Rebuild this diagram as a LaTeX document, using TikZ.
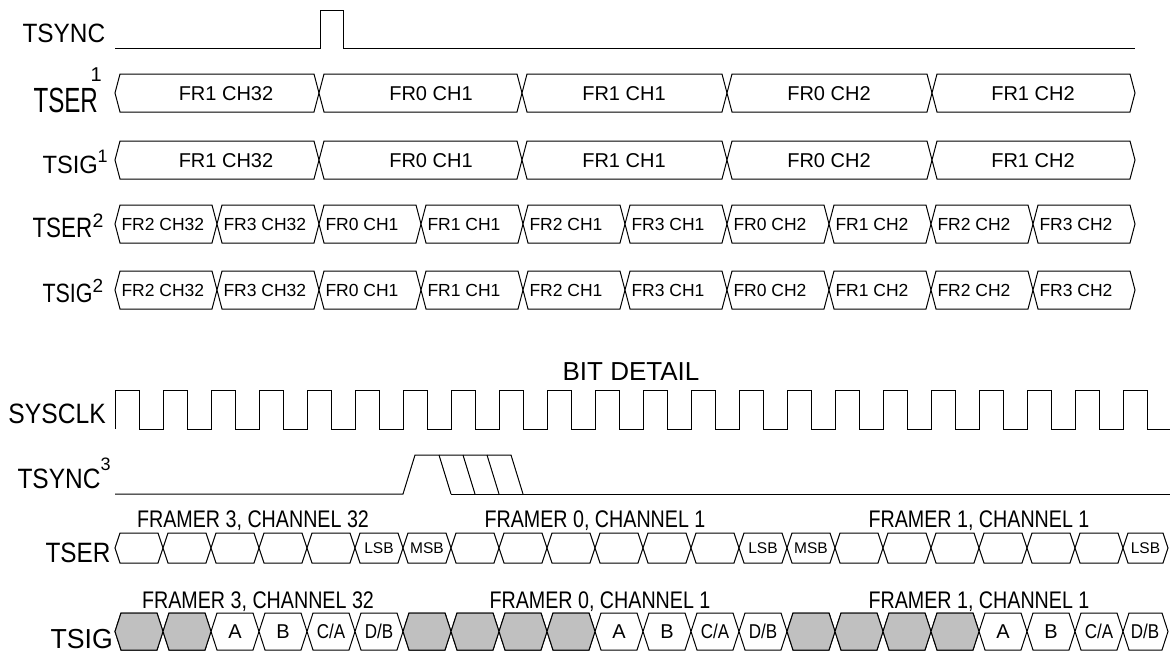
\documentclass[tikz,border=0pt]{standalone}
\usepackage{fontspec}
\setmainfont{Liberation Sans}
\usepackage{graphicx}
\definecolor{cellgray}{RGB}{192,192,192}
\newcommand{\fs}[1]{\fontsize{#1}{#1}\selectfont}
\newcommand{\sq}[2]{\scalebox{#1}[1]{#2}}
% hexagon cell: style, x1, x2, yc, h, s
\newcommand{\hexcell}[6]{\filldraw[#1] (#2,#4) -- ({#2+#6},{#4-#5}) -- ({#3-#6},{#4-#5}) -- (#3,#4) -- ({#3-#6},{#4+#5}) -- ({#2+#6},{#4+#5}) -- cycle;}
\begin{document}
\begin{tikzpicture}[x=1pt,y=-1pt,line width=1pt,line join=miter,
  lbl/.style={anchor=base west,inner sep=0pt},
  bustext/.style={anchor=base,inner sep=0pt},
  bustextw/.style={anchor=base west,inner sep=0pt},
  wcell/.style={draw=black,fill=white},
  gcell/.style={draw=black,fill=cellgray},
  sig/.style={draw=black,line width=1pt}]
\useasboundingbox (0,0) rectangle (1170,653);

% ---------- signal names ----------
\node[lbl] (lTSYNC) at (22,42) {\sq{0.92}{\fs{26.5}TSYNC}};
\node[lbl] (lTSERa) at (33,112) {\sq{0.69}{\fs{35}TSER}};
\node[lbl] (lTSERas) at (90,81) {\fs{20}1};
\node[lbl] (lTSIGa) at (42,173) {\sq{0.95}{\fs{25}TSIG}};
\node[lbl] (lTSIGas) at (97,162) {\fs{18}1};
\node[lbl] (lTSERb) at (32,237) {\sq{0.8}{\fs{28}TSER}};
\node[lbl] (lTSERbs) at (92,227) {\fs{19.5}2};
\node[lbl] (lTSIGb) at (42,302) {\sq{0.81}{\fs{26.5}TSIG}};
\node[lbl] (lTSIGbs) at (92,292) {\fs{19}2};
\node[lbl] (lSYSCLK) at (8,423) {\sq{0.88}{\fs{28}SYSCLK}};
\node[lbl] (lTSYNCc) at (17,488) {\sq{0.875}{\fs{28}TSYNC}};
\node[lbl] (lTSYNCcs) at (100,470) {\fs{18}3};
\node[lbl] (lTSERc) at (45,562) {\sq{0.87}{\fs{28}TSER}};
\node[lbl] (lTSIGc) at (50,648) {\sq{0.97}{\fs{27.5}TSIG}};

% ---------- TSYNC ----------
\draw[sig] (115,48) -- (320,48) -- (320,10) -- (343,10) -- (343,48) -- (1135,48);

% ---------- TSER1 / TSIG1 ----------
\foreach \a/\b/\c/\t [count=\i] in {115/319/226/FR1 CH32, 319/522/431/FR0 CH1, 522/727/624/FR1 CH1, 727/932/829/FR0 CH2, 932/1135/1033/FR1 CH2}{
  \hexcell{wcell}{\a}{\b}{93}{19}{5}
  \node[bustext] (sera\i) at (\c,100) {\fs{20}\t};
  \hexcell{wcell}{\a}{\b}{160}{19}{5}
  \node[bustext] (siga\i) at (\c,167) {\fs{20}\t};
}

% ---------- TSER2 / TSIG2 ----------
\foreach \t [count=\i from 0] in {FR2 CH32, FR3 CH32, FR0 CH1, FR1 CH1, FR2 CH1, FR3 CH1, FR0 CH2, FR1 CH2, FR2 CH2, FR3 CH2}{
  \pgfmathsetmacro{\xa}{115+102*\i}
  \pgfmathsetmacro{\xb}{217+102*\i}
  \hexcell{wcell}{\xa}{\xb}{224}{19}{5}
  \node[bustextw] (serb\i) at ({\xa+6},230.3) {\fs{17.5}\t};
  \hexcell{wcell}{\xa}{\xb}{290}{19}{5}
  \node[bustextw] (sigb\i) at ({\xa+6},296.3) {\fs{17.5}\t};
}

% ---------- BIT DETAIL ----------
\node[anchor=base,inner sep=0pt] (bitdetail) at (631,380) {\fs{26}BIT DETAIL};

% SYSCLK
\draw[sig] (115,429) \foreach \k in {0,...,21}{ -- ({115+48*\k},429) -- ({115+48*\k},390) -- ({139+48*\k},390) -- ({139+48*\k},429)} -- (1170,429);

% TSYNC3
\draw[sig] (115,494) -- (403,494) -- (415,455) -- (511,455) -- (523,494);
\draw[sig] (451,494) -- (1170,494);
\draw[sig] (439,455) -- (451,494);
\draw[sig] (463,455) -- (475,494);
\draw[sig] (487,455) -- (499,494);

% FRAMER labels
\node[anchor=base,inner sep=0pt] (fTSERa) at (253,527) {\sq{0.82}{\fs{24}FRAMER 3, CHANNEL 32}};
\node[anchor=base,inner sep=0pt] (fTSERb) at (595,527) {\sq{0.82}{\fs{24}FRAMER 0, CHANNEL 1}};
\node[anchor=base,inner sep=0pt] (fTSERc) at (979,527) {\sq{0.82}{\fs{24}FRAMER 1, CHANNEL 1}};
\node[anchor=base,inner sep=0pt] (fTSIGa) at (258,608) {\sq{0.82}{\fs{24}FRAMER 3, CHANNEL 32}};
\node[anchor=base,inner sep=0pt] (fTSIGb) at (600,608) {\sq{0.82}{\fs{24}FRAMER 0, CHANNEL 1}};
\node[anchor=base,inner sep=0pt] (fTSIGc) at (979,608) {\sq{0.82}{\fs{24}FRAMER 1, CHANNEL 1}};

% bottom TSER cells
\foreach \k in {0,...,21}{
  \pgfmathsetmacro{\xa}{115+48*\k}
  \pgfmathsetmacro{\xb}{min(163+48*\k,1168)}
  \hexcell{wcell}{\xa}{\xb}{548}{15}{5}
}
\foreach \k/\t in {5/LSB, 6/MSB, 13/LSB, 14/MSB, 21/LSB}{
  \pgfmathsetmacro{\xc}{min(139+48*\k,1145.5)}
  \node[bustext] (bser\k) at (\xc,553.5) {\fs{15.5}\t};
}

% bottom TSIG cells
\foreach \k in {0,...,21}{
  \pgfmathsetmacro{\xa}{115+48*\k}
  \pgfmathsetmacro{\xb}{min(163+48*\k,1168)}
  \hexcell{wcell}{\xa}{\xb}{631.5}{18.5}{6}
}
\foreach \k in {0,1,6,7,8,9,14,15,16,17}{
  \pgfmathsetmacro{\xa}{115+48*\k}
  \pgfmathsetmacro{\xb}{163+48*\k}
  \hexcell{gcell}{\xa}{\xb}{631.5}{18.5}{6}
}
\foreach \k/\t in {2/A, 3/B, 10/A, 11/B, 18/A, 19/B}{
  \pgfmathsetmacro{\xc}{139+48*\k}
  \node[bustext] (bsig\k) at (\xc,638.5) {\fs{20}\t};
}
\foreach \k in {4,12,20}{
  \pgfmathsetmacro{\xc}{139+48*\k}
  \node[bustext] (bsig\k) at (\xc,638.5) {\sq{0.85}{\fs{20}C/A}};
}
\foreach \k in {5,13,21}{
  \pgfmathsetmacro{\xc}{min(139+48*\k,1145)}
  \node[bustext] (bsig\k) at (\xc,638.5) {\sq{0.85}{\fs{20}D/B}};
}
\end{tikzpicture}
\end{document}
